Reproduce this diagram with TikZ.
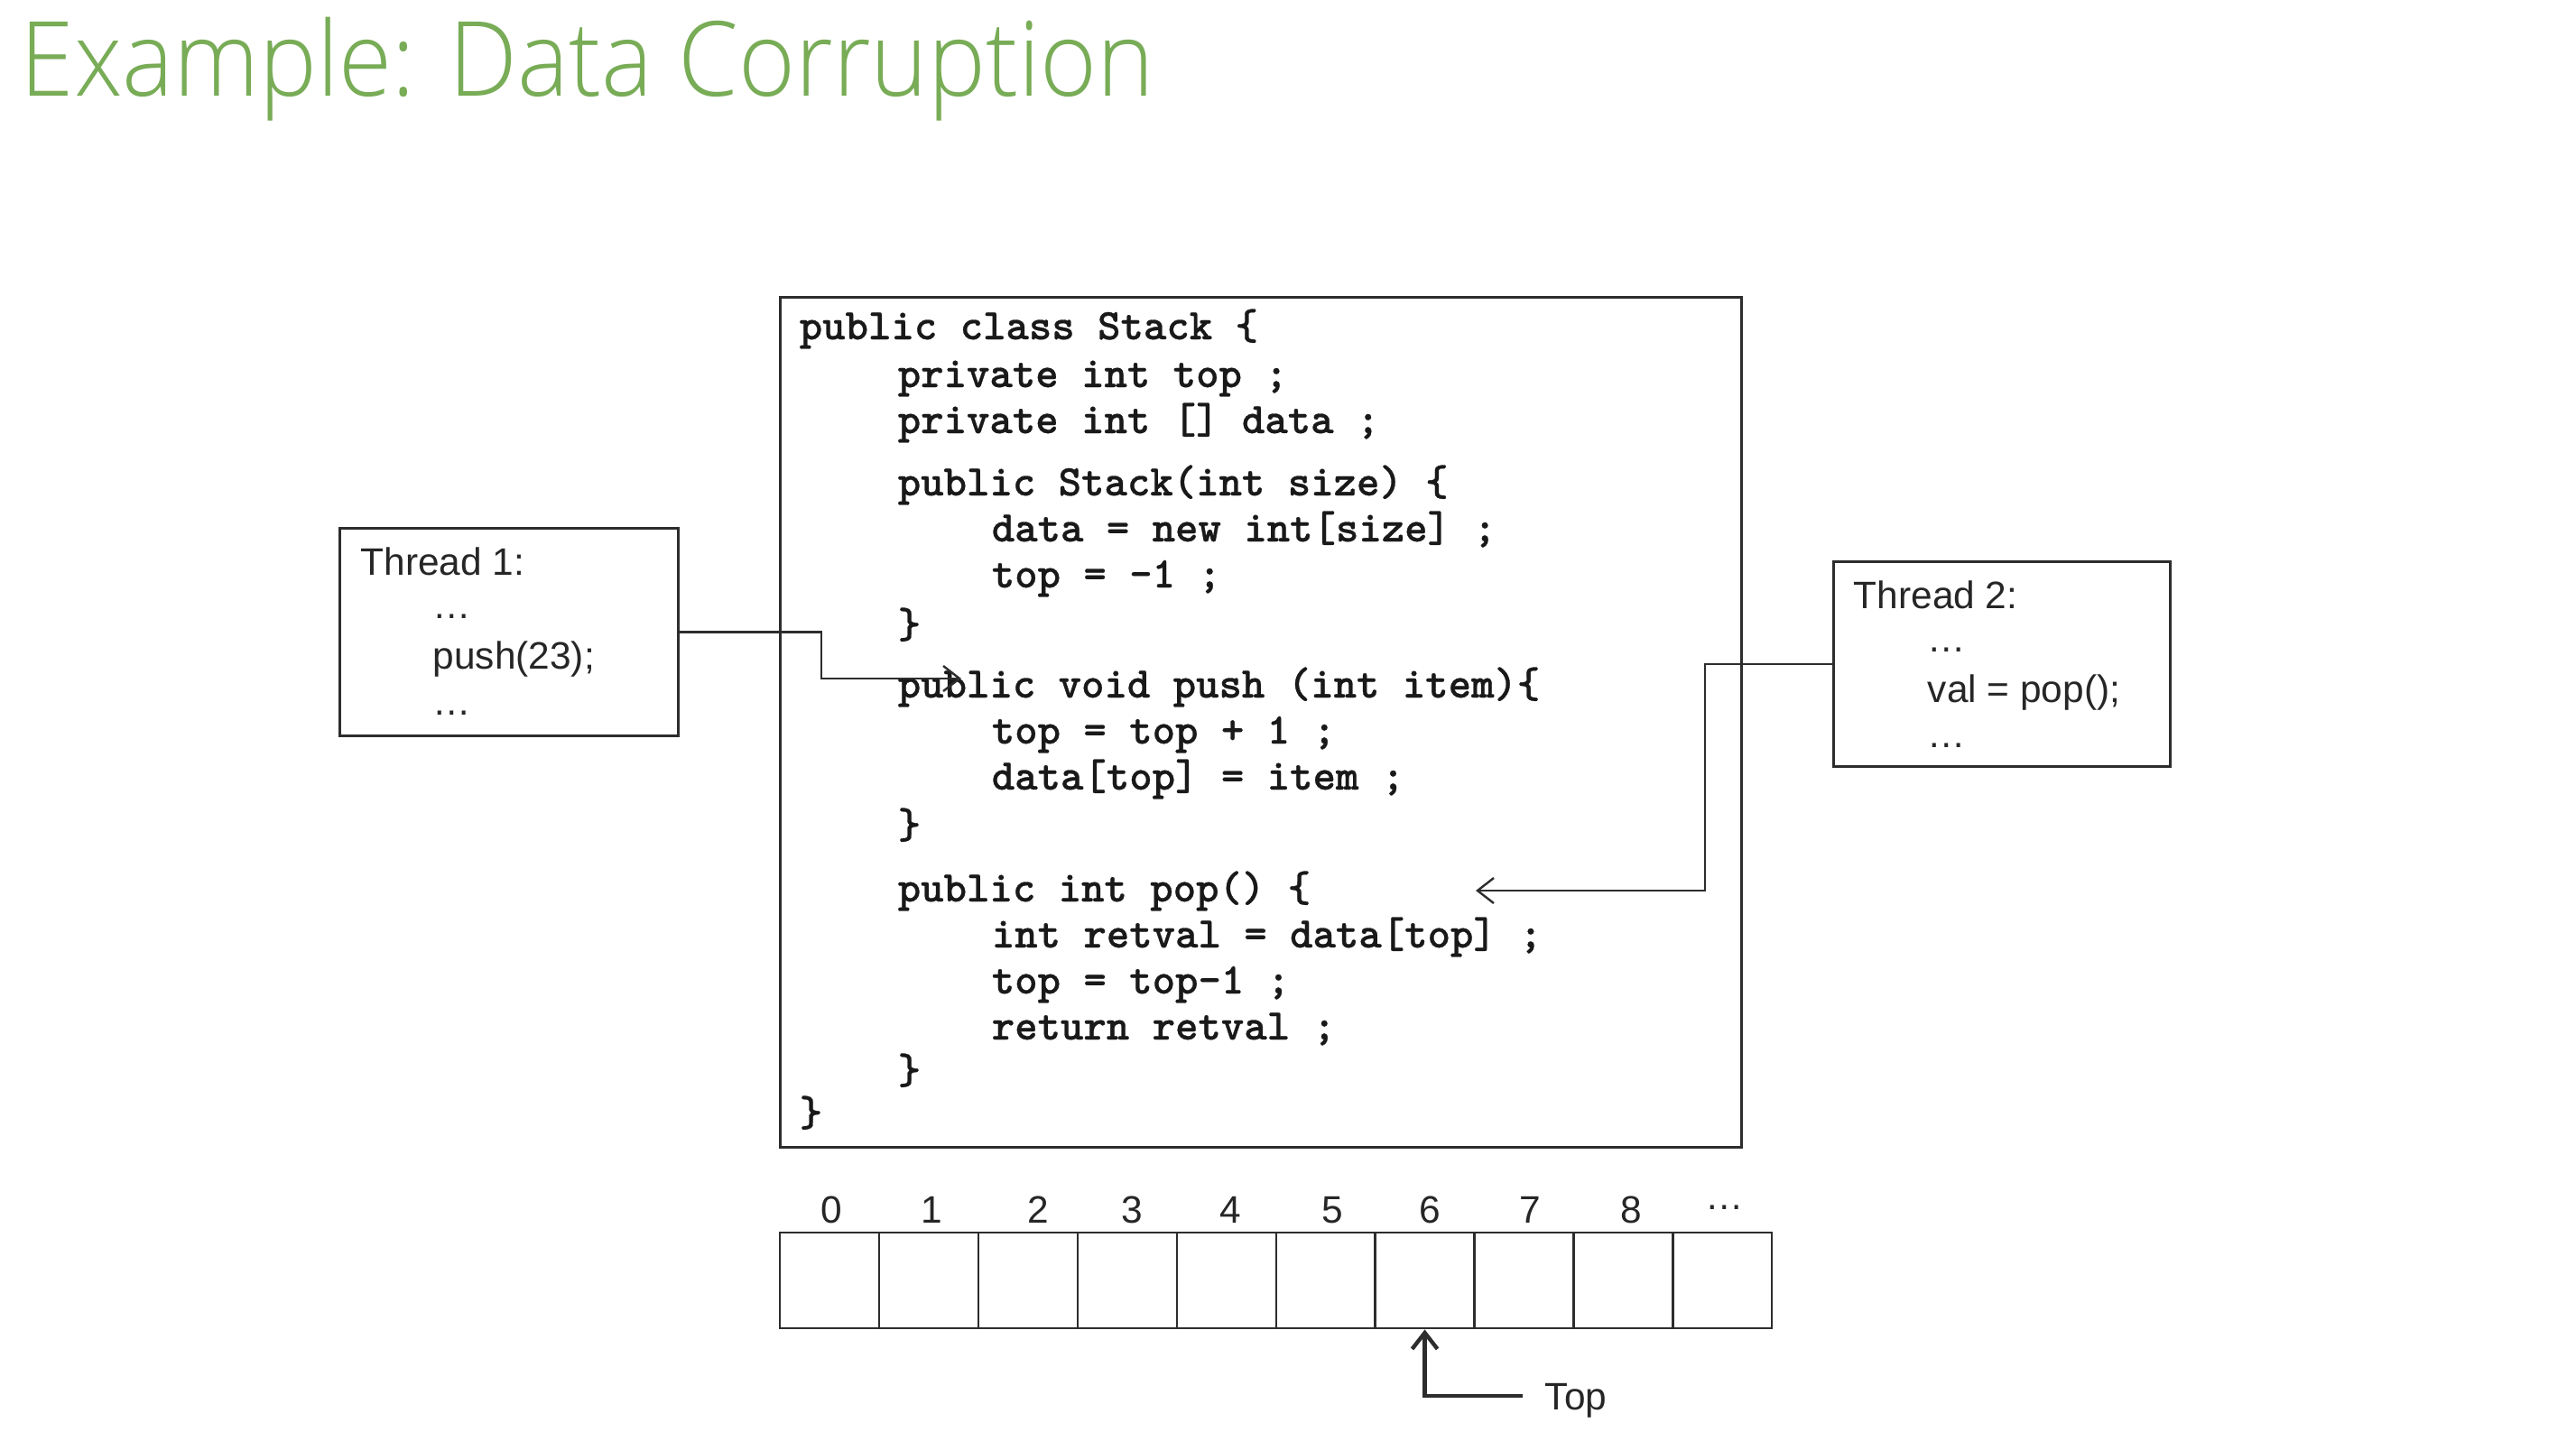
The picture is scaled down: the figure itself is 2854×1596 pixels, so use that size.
\documentclass[tikz,border=0pt]{standalone}
\usepackage{fontspec}
\setmainfont{Liberation Sans}
\IfFontExistsTF{Open Sans Light}
  {\newfontfamily\titlefont{Open Sans Light}}
  {\newfontfamily\titlefont{Open Sans}}
\newfontfamily\codefont{lmmonolt10-bold.otf}[FakeBold=0.6]
\usetikzlibrary{arrows.meta}
\definecolor{titlegreen}{RGB}{120,172,86}
\definecolor{ink}{RGB}{45,45,45}

\begin{document}
\begin{tikzpicture}[x=0.25pt,y=-0.25pt,
  box/.style={draw=ink, line width=0.7pt, inner sep=0, anchor=north west},
  txt/.style={inner sep=0, anchor=base west, text=black!85,
    font=\fontsize{10.6pt}{12pt}\selectfont},
  src/.style={inner sep=0, anchor=base west, text=black!90,
    font=\codefont\fontsize{12.1pt}{14pt}\selectfont},
  conn/.style={draw=ink, line width=0.6pt,
    -{Straight Barb[length=4.5pt,width=7pt]}},
  cell/.style={draw=ink, line width=0.6pt, minimum width=27.475pt,
    minimum height=26.5pt, inner sep=0, anchor=north west},
  idx/.style={inner sep=0, anchor=base, text=black!85,
    font=\fontsize{10.6pt}{12pt}\selectfont}
]
\useasboundingbox[fill=white] (0,0) rectangle (2854,1596);

% heading
\node[anchor=base west, inner sep=0, text=titlegreen, xscale=0.935,
  font=\titlefont\fontsize{28.75pt}{32pt}\selectfont] (title) at (22,106)
  {Example: Data Corruption};

% the Stack class
\node[box, minimum width=266.25pt, minimum height=235.5pt] (code) at (863,328) {};
\node[src] (l1)  at (885,376)  {public class Stack \{};
\node[src] (l2)  at (994,429)  {private int top ;};
\node[src] (l3)  at (994,480)  {private int [] data ;};
\node[src] (l4)  at (994,549)  {public Stack(int size) \{};
\node[src] (l5)  at (1098,600) {data = new int[size] ;};
\node[src] (l6)  at (1098,651) {top = -1 ;};
\node[src] (l7)  at (994,707)  {\}};
\node[src] (l8)  at (994,773)  {public void push (int item)\{};
\node[src] (l9)  at (1098,824) {top = top + 1 ;};
\node[src] (l10) at (1098,875) {data[top] = item ;};
\node[src] (l11) at (994,929)  {\}};
\node[src] (l12) at (994,999)  {public int pop() \{};
\node[src] (l13) at (1098,1050) {int retval = data[top] ;};
\node[src] (l14) at (1098,1101) {top = top-1 ;};
\node[src] (l15) at (1098,1152) {return retval ;};
\node[src] (l16) at (994,1201) {\}};
\node[src] (l17) at (885,1248) {\}};

% the two threads
\node[box, minimum width=93.75pt, minimum height=57.5pt] (t1) at (375,584) {};
\node[txt] (t1a) at (399,637) {Thread 1:};
\node[txt] (t1b) at (479,685) {…};
\node[txt] (t1c) at (479,741) {push(23);};
\node[txt] (t1d) at (479,792) {…};

\node[box, minimum width=93.25pt, minimum height=56.75pt] (t2) at (2030,621) {};
\node[txt] (t2a) at (2053,674) {Thread 2:};
\node[txt] (t2b) at (2135,722) {…};
\node[txt] (t2c) at (2135,778) {val = pop();};
\node[txt] (t2d) at (2135,828) {…};

% calls into the class
\coordinate (bendA) at (910,752);
\coordinate (tipA) at (1065,752);
\coordinate (bendB) at (1889,987);
\coordinate (tipB) at (1635,987);
\draw[conn] (t1.east) -| (bendA) -- (tipA);
\draw[conn] (t2.west) -| (bendB) -- (tipB);

% the data array
\foreach \i in {0,...,9}
  \node[cell] (c\i) at ({863+\i*109.9},1365) {};
\node[idx] (i0) at (921,1355)  {0};
\node[idx] (i1) at (1032,1355) {1};
\node[idx] (i2) at (1150,1355) {2};
\node[idx] (i3) at (1254,1355) {3};
\node[idx] (i4) at (1363,1355) {4};
\node[idx] (i5) at (1476,1355) {5};
\node[idx] (i6) at (1584,1355) {6};
\node[idx] (i7) at (1695,1355) {7};
\node[idx] (i8) at (1807,1355) {8};
\node[idx] (i9) at (1911,1340) {…};

% top marker
\node[inner sep=0, anchor=base west, text=black!85,
  font=\fontsize{10.6pt}{12pt}\selectfont] (toplbl) at (1711,1562) {Top};
\coordinate (topend) at (1687,1547);
\draw[draw=ink, line width=1.1pt, -{Straight Barb[length=4.5pt,width=7pt]}]
  (topend) -| (c6.south);
\end{tikzpicture}
\end{document}
